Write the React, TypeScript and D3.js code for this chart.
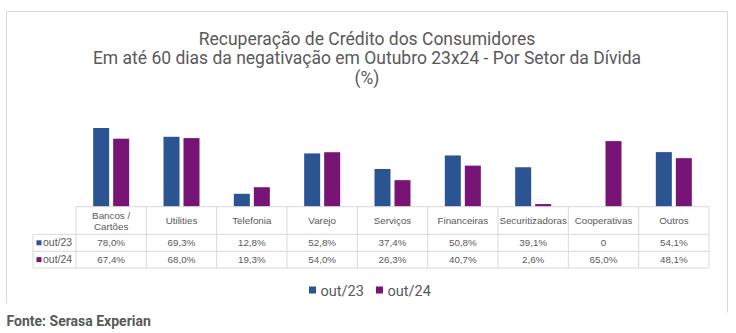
import React from "react";
import * as d3 from "d3";

const categories = ["Bancos /\nCartões", "Utilities", "Telefonia", "Varejo", "Serviços", "Financeiras", "Securitizadoras", "Cooperativas", "Outros"];
const seriesNames = ["out/23", "out/24"];
const out23 = [78.0, 69.3, 12.8, 52.8, 37.4, 50.8, 39.1, 0, 54.1];
const out24 = [67.4, 68.0, 19.3, 54.0, 26.3, 40.7, 2.6, 65.0, 48.1];
const labels23 = ["78,0%", "69,3%", "12,8%", "52,8%", "37,4%", "50,8%", "39,1%", "0", "54,1%"];
const labels24 = ["67,4%", "68,0%", "19,3%", "54,0%", "26,3%", "40,7%", "2,6%", "65,0%", "48,1%"];
const colors = ["#2B5493", "#781476"];
const titleLines = ["Recuperação de Crédito dos Consumidores", "Em até 60 dias da negativação em Outubro 23x24 - Por Setor da Dívida", "(%)"];
const source = "Fonte: Serasa Experian";

export default function App() {
  const W = 736, H = 333;
  const tableLeft = 76, tableRight = 709, keyLeft = 33;
  const baseY = 206.7;
  const rowH = [baseY, 234.3, 251.3, 268];
  const x = d3.scaleBand<string>().domain(categories).range([tableLeft, tableRight]).padding(0);
  const y = d3.scaleLinear().domain([0, 100]).range([baseY, baseY - 100.9]);
  const barW = 16, gap = 4;
  const series = [out23, out24];
  const rowLabels = [labels23, labels24];
  const grid = "#d9d9d9";
  const txt = "#595959";
  const tfont = "'Liberation Sans', Arial, sans-serif";

  return (
    <svg width={W} height={H} style={{ position: "absolute", left: 0, top: 0, background: "#fff" }}>
      <rect x={0} y={0} width={W} height={H} fill="#fff" />
      {/* frame */}
      <line x1={6.5} y1={11.5} x2={727.5} y2={11.5} stroke={grid} />
      <line x1={6.5} y1={11.5} x2={6.5} y2={303} stroke={grid} />
      <line x1={727.5} y1={11.5} x2={727.5} y2={312.5} stroke={grid} />
      {/* title */}
      {titleLines.map((t, i) => (
        <text key={i} x={367} y={44.5 + i * 19.5} textAnchor="middle" fontFamily="Roboto, sans-serif" fontSize={17.5} fill={txt}>{t}</text>
      ))}
      {/* bars */}
      {categories.map((c, i) => {
        const cx = (x(c) as number) + x.bandwidth() / 2;
        const start = cx - (barW * 2 + gap) / 2;
        return series.map((s, j) => (
          s[i] > 0 ? (
            <rect key={c + j} x={start + j * (barW + gap)} y={y(s[i])} width={barW} height={baseY - y(s[i])} fill={colors[j]} />
          ) : null
        ));
      })}
      {/* table grid */}
      <g stroke={grid} strokeWidth={1}>
        <line x1={tableLeft} y1={rowH[0]} x2={tableRight} y2={rowH[0]} />
        {[1, 2, 3].map((r) => (
          <line key={r} x1={keyLeft} y1={rowH[r]} x2={tableRight} y2={rowH[r]} />
        ))}
        <line x1={keyLeft} y1={rowH[1]} x2={keyLeft} y2={rowH[3]} />
        {categories.map((c) => (
          <line key={c} x1={x(c) as number} y1={rowH[0]} x2={x(c) as number} y2={rowH[3]} />
        ))}
        <line x1={tableRight} y1={rowH[0]} x2={tableRight} y2={rowH[3]} />
      </g>
      {/* headers */}
      {categories.map((c) => {
        const cx = (x(c) as number) + x.bandwidth() / 2;
        const parts = c.split("\n");
        const mid = (rowH[0] + rowH[1]) / 2;
        return (
          <text key={c} x={cx} textAnchor="middle" fontFamily={tfont} fontSize={9.8} fill={txt}>
            {parts.map((p, k) => (
              <tspan key={k} x={cx} y={mid + 3.5 + (k - (parts.length - 1) / 2) * 11}>{p}</tspan>
            ))}
          </text>
        );
      })}
      {/* rows */}
      {rowLabels.map((lab, r) => {
        const mid = (rowH[r + 1] + rowH[r + 2]) / 2;
        return (
          <g key={r}>
            <rect x={36.5} y={mid - 2.5} width={5} height={5} fill={colors[r]} />
            <text x={43} y={mid + 3.5} fontFamily={tfont} fontSize={10.5} fill={txt}>{seriesNames[r]}</text>
            {categories.map((c, i) => (
              <text key={c} x={(x(c) as number) + x.bandwidth() / 2} y={mid + 3.5} textAnchor="middle" fontFamily={tfont} fontSize={9.8} fill={txt}>{lab[i]}</text>
            ))}
          </g>
        );
      })}
      {/* legend */}
      {seriesNames.map((s, i) => (
        <g key={s} transform={`translate(${309 + i * 67},0)`}>
          <rect x={0} y={286.5} width={7} height={7} fill={colors[i]} />
          <text x={11.5} y={296} fontFamily="Roboto, sans-serif" fontSize={14.5} fill={txt}>{s}</text>
        </g>
      ))}
      {/* source */}
      <text x={6.5} y={326} fontFamily="Roboto, sans-serif" fontWeight="bold" fontSize={14} fill={txt}>{source}</text>
    </svg>
  );
}
